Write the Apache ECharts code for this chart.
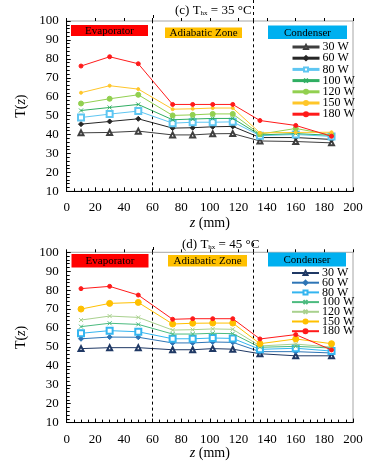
<!DOCTYPE html>
<html>
<head>
<meta charset="utf-8">
<script src="https://cdn.jsdelivr.net/npm/echarts@6.0.0/dist/echarts.min.js"></script>
<style>
  html, body { margin: 0; padding: 0; background: #fff; }
  #main { width: 389px; height: 462px; }
</style>
</head>
<body>
<div id="main"></div>
<script>
// positions along the pipe (mm)
var zPos = [10, 30, 50, 74, 88, 102, 116, 135, 160, 185];
var powers = ['30 W', '60 W', '80 W', '100 W', '120 W', '150 W', '180 W'];

// (c) Thx = 35 C
var c30  = [40.9, 41.1, 41.8, 39.8, 39.8, 40.4, 40.5, 36.6, 36.3, 35.6];
var c60  = [45.5, 46.9, 48.3, 43.4, 43.6, 44.1, 44.3, 38.4, 38.4, 37.4];
var c80  = [49.0, 50.8, 52.4, 46.0, 46.5, 46.5, 46.7, 39.4, 40.0, 39.0];
var c100 = [52.7, 54.3, 55.9, 47.8, 48.2, 48.5, 48.5, 39.8, 40.5, 39.6];
var c120 = [56.4, 58.9, 61.0, 50.1, 50.4, 50.9, 50.9, 40.2, 43.2, 39.8];
var c150 = [62.1, 65.8, 64.0, 53.4, 53.6, 54.0, 54.0, 40.9, 41.1, 41.2];
var c180 = [76.2, 81.1, 77.4, 55.9, 55.9, 55.9, 55.9, 47.4, 44.8, 39.1];

// (d) Thx = 45 C
var d30  = [49.1, 49.6, 49.6, 48.5, 48.5, 49.1, 48.8, 46.4, 45.3, 45.3];
var d60  = [54.3, 55.2, 55.1, 52.1, 52.1, 52.6, 52.4, 47.5, 47.5, 46.8];
var d80  = [57.2, 58.6, 58.0, 54.3, 54.3, 54.7, 54.5, 48.7, 49.3, 47.8];
var d100 = [60.7, 62.5, 61.9, 56.8, 56.8, 57.2, 57.0, 49.8, 50.3, 49.4];
var d120 = [64.2, 66.3, 65.6, 58.9, 59.1, 59.5, 59.3, 50.5, 51.5, 49.9];
var d150 = [70.0, 73.0, 73.5, 62.1, 62.5, 62.6, 62.6, 51.7, 54.2, 51.7];
var d180 = [80.8, 82.0, 77.4, 64.6, 64.9, 64.9, 64.9, 54.2, 56.5, 48.4];

var zoneLines = [60, 130];
var xTicks = { min: 0, max: 200, interval: 20 };
var yTicks = { min: 10, max: 100, interval: 10 };

var SERIF = '"Liberation Serif", "DejaVu Serif", serif';
var xMark = 'path://M0,0L10,10M10,0L0,10';

// style per power for each panel
var styleC = [
  { color: '#3f3f3f', symbol: 'emptyTriangle', size: 5 },
  { color: '#262626', symbol: 'diamond', size: 5 },
  { color: '#5ec6f2', symbol: 'emptyRect', size: 6, border: '#1f3864' },
  { color: '#2fae62', symbol: xMark, size: 4 },
  { color: '#92d050', symbol: 'circle', size: 5 },
  { color: '#ffc629', symbol: 'circle', size: 3 },
  { color: '#ff1a1a', symbol: 'circle', size: 4 }
];
var styleD = [
  { color: '#1f3864', symbol: 'emptyTriangle', size: 5 },
  { color: '#2e75b6', symbol: 'diamond', size: 5 },
  { color: '#33b5f0', symbol: 'emptyRect', size: 6 },
  { color: '#4cbb7f', symbol: xMark, size: 4 },
  { color: '#a9d18e', symbol: xMark, size: 4 },
  { color: '#ffc000', symbol: 'circle', size: 6 },
  { color: '#ff1a1a', symbol: 'circle', size: 4 }
];

function pairs(vals) {
  return vals.map(function (v, i) { return [zPos[i], v]; });
}

function makeSeries(prefix, sets, styles, gridIdx) {
  return sets.map(function (vals, i) {
    var st = styles[i];
    var s = {
      name: prefix + '|' + powers[i],
      type: 'line',
      xAxisIndex: gridIdx,
      yAxisIndex: gridIdx,
      data: pairs(vals),
      symbol: st.symbol,
      symbolSize: st.size,
      showSymbol: true,
      lineStyle: { color: st.color, width: 1 },
      itemStyle: { color: st.color, borderColor: st.border || st.color, borderWidth: 1 },
      z: 3 + i
    };
    if (i === 0) {
      s.markLine = {
        silent: true,
        symbol: ['none', 'none'],
        label: { show: false },
        lineStyle: { color: '#000', type: [3, 3], width: 1 },
        data: zoneLines.map(function (x) { return { xAxis: x }; })
      };
    }
    return s;
  });
}

var gridTops = [21, 252.3];
var gridH = 170.3;

function xAxisMain(g, nameGap) {
  return {
    type: 'value', gridIndex: g,
    min: xTicks.min, max: xTicks.max, interval: xTicks.interval,
    name: '{i|z} (mm)', nameLocation: 'middle', nameGap: nameGap,
    nameTextStyle: { fontFamily: SERIF, fontSize: 14, color: '#000',
      rich: { i: { fontFamily: SERIF, fontStyle: 'italic', fontSize: 14, color: '#000' } } },
    axisLine: { lineStyle: { color: '#000', width: 1 } },
    axisTick: { inside: true, length: 4, lineStyle: { color: '#000' } },
    minorTick: { show: true, splitNumber: 4, length: 3, lineStyle: { color: '#000' } },
    axisLabel: { fontFamily: SERIF, fontSize: 13, color: '#000', margin: 10 },
    splitLine: { show: false }
  };
}
function xAxisTicksOut(g) {
  return {
    type: 'value', gridIndex: g,
    min: xTicks.min, max: xTicks.max, interval: xTicks.interval,
    axisLine: { show: false },
    axisTick: { inside: false, length: 3, lineStyle: { color: '#000' } },
    axisLabel: { show: false },
    splitLine: { show: false }
  };
}
function yAxisMain(g) {
  return {
    type: 'value', gridIndex: g,
    min: yTicks.min, max: yTicks.max, interval: yTicks.interval,
    name: 'T({i|z})', nameLocation: 'middle', nameGap: 30, nameRotate: 90,
    nameTextStyle: { fontFamily: SERIF, fontSize: 14, color: '#000',
      rich: { i: { fontFamily: SERIF, fontStyle: 'italic', fontSize: 14, color: '#000' } } },
    axisLine: { show: true, lineStyle: { color: '#000', width: 1 } },
    axisTick: { inside: true, length: 3, lineStyle: { color: '#000' } },
    minorTick: { show: true, splitNumber: 5, length: 3, lineStyle: { color: '#000' } },
    axisLabel: { fontFamily: SERIF, fontSize: 13, color: '#000', margin: 8 },
    splitLine: { show: false }
  };
}
function yAxisTicksOut(g) {
  return {
    type: 'value', gridIndex: g,
    min: yTicks.min, max: yTicks.max, interval: yTicks.interval,
    axisLine: { show: false },
    axisTick: { inside: false, length: 4, lineStyle: { color: '#000' } },
    axisLabel: { show: false },
    splitLine: { show: false }
  };
}

function legendFor(prefix, top, gap, lw) {
  return {
    orient: 'vertical', left: 286, top: top,
    data: powers.map(function (p) { return prefix + '|' + p; }),
    formatter: function (n) { return n.split('|')[1]; },
    itemWidth: 27, itemHeight: 5, itemGap: gap,
    lineStyle: { width: lw },
    textStyle: { fontFamily: SERIF, fontSize: 12, color: '#000', padding: [0, 0, 0, -2] },
    selectedMode: false
  };
}

function zoneBox(x, y, w, h, fill, label) {
  return [
    { type: 'rect', shape: { x: x, y: y, width: w, height: h }, style: { fill: fill }, z: 10 },
    { type: 'text', x: x + w / 2, y: y + h / 2 + 0.5, z: 11,
      style: { text: label, fill: '#000', font: '11px ' + SERIF, align: 'center', verticalAlign: 'middle' } }
  ];
}

var chart = echarts.init(document.getElementById('main'), null, { renderer: 'canvas' });

var titleStyle = { fontFamily: SERIF, fontSize: 13, fontWeight: 'normal', color: '#000',
  rich: { s: { fontFamily: SERIF, fontSize: 7, color: '#000', padding: [6, 0, 0, 0] } } };

var option = {
  backgroundColor: '#fff',
  animation: false,
  title: [
    { text: '(c) T{s|hx} = 35 °C', left: 170, top: -1, textStyle: titleStyle },
    { text: '(d) T{s|hx} = 45 °C', left: 177, top: 233, textStyle: titleStyle }
  ],
  grid: [
    { left: 66.7, right: 36, top: gridTops[0], height: gridH, show: true, borderColor: '#a6a6a6', borderWidth: 1 },
    { left: 66.7, right: 36, top: gridTops[1], height: gridH, show: true, borderColor: '#a6a6a6', borderWidth: 1 }
  ],
  xAxis: [xAxisMain(0, 25), xAxisMain(1, 24), xAxisTicksOut(0), xAxisTicksOut(1)],
  yAxis: [yAxisMain(0), yAxisMain(1), yAxisTicksOut(0), yAxisTicksOut(1)],
  legend: [
    legendFor('c', 36, -0.8, 3),
    legendFor('d', 262, -2.3, 2)
  ],
  series: makeSeries('c', [c30, c60, c80, c100, c120, c150, c180], styleC, 0)
    .concat(makeSeries('d', [d30, d60, d80, d100, d120, d150, d180], styleD, 1)),
  graphic: []
    .concat(zoneBox(71, 25, 77, 11, '#ff0000', 'Evaporator'))
    .concat(zoneBox(165, 27.5, 77, 10.5, '#ffc000', 'Adiabatic Zone'))
    .concat(zoneBox(268, 25.5, 79, 13.5, '#00b0f0', 'Condenser'))
    .concat(zoneBox(71.5, 254, 77, 13.5, '#ff0000', 'Evaporator'))
    .concat(zoneBox(168, 255, 79, 11.5, '#ffc000', 'Adiabatic Zone'))
    .concat(zoneBox(268, 252.5, 78, 14, '#00b0f0', 'Condenser'))
};
chart.setOption(option);

// dashed zone lines poke out above the plot frame
var ext = [];
var extTop = [[15, 0], [247, 243]];
[0, 1].forEach(function (g) {
  zoneLines.forEach(function (x, k) {
    var p = chart.convertToPixel({ gridIndex: g }, [x, yTicks.max]);
    ext.push({ type: 'line', z: 9,
      shape: { x1: Math.round(p[0]) + 0.5, y1: extTop[g][k], x2: Math.round(p[0]) + 0.5, y2: p[1] },
      style: { stroke: '#000', lineWidth: 1, lineDash: [3, 3] } });
  });
});
chart.setOption({ graphic: option.graphic.concat(ext) });
</script>
</body>
</html>
